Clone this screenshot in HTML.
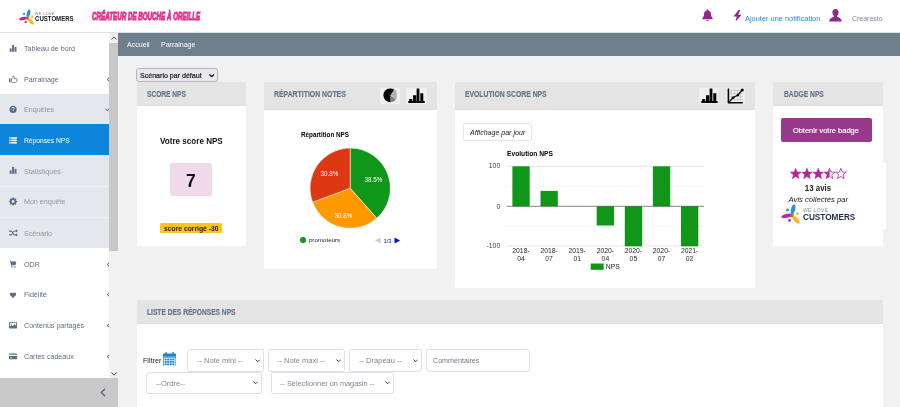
<!DOCTYPE html>
<html><head><meta charset="utf-8">
<style>
*{box-sizing:border-box;margin:0;padding:0}
html,body{width:900px;height:407px;overflow:hidden;background:#f1f1f1;font-family:"Liberation Sans",sans-serif;}
.abs{position:absolute}
.t{display:inline-block;transform-origin:0 50%;white-space:nowrap}
#hdr{position:absolute;left:0;top:0;width:900px;height:33px;background:#fff;border-bottom:1px solid #dde2e7}
#side{position:absolute;left:0;top:33px;width:109px;height:345px;background:#fff}
.it{position:relative;height:30.76px;width:109px;color:#5e6e80;font-size:7.45px;line-height:30.76px;padding-left:23.7px;white-space:nowrap}
.it .t{transform:scaleX(.955);position:relative;top:1.2px}
.it svg.ic{position:absolute;left:8.800px;width:8.200px;height:8.200px;fill:#5e6e80;overflow:visible}.it svg.ar{position:absolute;overflow:visible}
.sep{box-shadow:inset 0 1px 0 #eef0f2}
.sub{background:#e4e7eb;color:#8d99a6}
.act{background:#0b86db;color:#fff}
.act svg.ic{fill:#fff;margin-top:.7px}.act .t{top:1.900px !important}
#sb{position:absolute;left:109px;top:33px;width:9px;height:345px;background:#f1f1f1}
#sb .th{position:absolute;left:0;top:10px;width:9px;height:208px;background:#c8c8c8}
#sfoot{position:absolute;left:0;top:378px;width:118px;height:29px;background:#c9c9c9}
#bc{position:absolute;left:118px;top:33px;width:782px;height:22.5px;background:#6e7e8d;color:#fff;font-size:7.45px;line-height:22.5px}
#bc .t{transform:scaleX(.945);position:relative;top:.9px}
.card{position:absolute;background:#fff;border-radius:1.200px}
.ch{position:absolute;left:0;top:0;right:0;background:#e4e4e4;color:#66788d;font-weight:bold;font-size:8.300px;-webkit-text-stroke:.2px #66788d;padding-left:10.3px;border-radius:1.200px 1.200px 0 0;box-shadow:inset 0 -1px 0 #dde0e3}
.ch .t{transform:scaleX(.9)}
.ib{position:absolute;top:5.8px;width:20.5px;height:15.8px;background:#eef1f4;border-radius:2px}
.sel{position:absolute;height:22.3px;border:1px solid #dcdfe3;border-radius:2.5px;background:#fff;color:#7a8795;font-size:7.600px;line-height:21.800px;padding-left:8.300px}
.sel .t{transform:scaleX(.99)}
.sel svg{position:absolute;right:2.600px;top:8.900px;width:5.400px;height:3.600px}
</style></head><body><div id="root" style="position:absolute;left:0;top:0;width:900px;height:407px;overflow:hidden;will-change:transform">
<div id="hdr">
 <!-- logo -->
 <svg class="abs" style="left:18.700px;top:8.700px" width="16.500" height="16.500" viewBox="0 0 17 17">
  <ellipse cx="9.8" cy="4.6" rx="1.7" ry="4.3" fill="#2b8fdd" transform="rotate(14 9.8 4.6)"/>
  <ellipse cx="4.3" cy="9.9" rx="4.2" ry="1.6" fill="#b5279d" transform="rotate(-14 4.3 9.9)"/>
  <ellipse cx="12.2" cy="13" rx="1.7" ry="4" fill="#f9b61a" transform="rotate(-42 12.2 13)"/>
  <circle cx="5.2" cy="5" r="1.2" fill="#2b8fdd"/><circle cx="13.6" cy="8" r="1.2" fill="#f9b61a"/><circle cx="6.8" cy="13.6" r="1.2" fill="#b5279d"/>
  <circle cx="8.6" cy="9.6" r="1.3" fill="#e8452c"/><circle cx="10" cy="8.8" r="1" fill="#7cc242"/>
 </svg>
 <div class="abs" style="left:34.800px;top:12px;font-size:3.800px;line-height:4px;color:#777;letter-spacing:.4px">WE LOVE</div>
 <div class="abs" style="left:34.700px;top:14.500px;font-size:6.900px;line-height:8px;color:#15151f;font-weight:bold"><span class="t" style="transform:scaleX(.88)">CUSTOMERS</span></div>
 <div class="abs" style="left:92.400px;top:8.5px;font-size:11.2px;line-height:14px;color:#e72f8b;font-weight:bold;font-style:italic;-webkit-text-stroke:1px #e72f8b"><span class="t" style="transform:scaleX(.557)">CRÉATEUR DE BOUCHE À OREILLE</span></div>
 <!-- bell -->
 <svg class="abs" style="left:702px;top:9.3px" width="11" height="12.4" viewBox="0 0 11 12.4"><path d="M5.5 0.2c.5 0 .8.3.8.8v.4c1.7.4 2.7 1.8 2.7 3.6 0 2.2.7 3.3 1.7 4.3.3.3.1.9-.4.9H.7c-.5 0-.7-.6-.4-.9 1-1 1.7-2.100 1.700-4.300 0-1.800 1-3.200 2.700-3.600v-.4c0-.5.300-.8.800-.8zM4.300 10.900h2.400c0 .7-.5 1.200-1.200 1.200s-1.200-.5-1.200-1.200z" fill="#93278f"/></svg>
 <!-- bolt -->
 <svg class="abs" style="left:733px;top:9.6px" width="9" height="11.8" viewBox="0 0 9 11.800"><path d="M5.600 0L0.400 6.400h3.300L2.400 11.800 8.600 4.700H5.200L7.300 0z" fill="#93278f"/></svg>
 <div class="abs" style="left:745.3px;top:13.800px;font-size:7.600px;line-height:10px;color:#1b8fd9"><span class="t" style="transform:scaleX(.975)">Ajouter une notification</span></div>
 <!-- user -->
 <svg class="abs" style="left:829.3px;top:9.2px" width="13" height="12.4" viewBox="0 0 13 12.4"><path d="M6.500 0c1.900 0 3.100 1.400 3.100 3.300 0 1.500-.7 2.900-1.500 3.600v.8c1.500.6 4.600 1.500 4.700 4.700H.2c.1-3.200 3.200-4.100 4.700-4.700v-.8C4.100 6.200 3.400 4.800 3.400 3.300 3.400 1.400 4.600 0 6.500 0z" fill="#93278f"/></svg>
 <div class="abs" style="left:852.2px;top:13.700px;font-size:7.500px;line-height:10px;color:#7d8b99"><span class="t" style="transform:scaleX(.93)">Crearesto</span></div>
</div>

<div id="side">
 <div class="it " style="height:30.5px;line-height:30.5px"><svg class="ic" style="top:11.45px" viewBox="0 0 8.200 8.200"><rect x="0.7" y="4.4" width="1.9" height="3.4"/><rect x="3.1" y="0.9" width="2" height="6.900"/><rect x="5.600" y="2.900" width="1.900" height="4.900"/></svg><span class="t">Tableau de bord</span></div>
 <div class="it " style="height:30.4px;line-height:30.4px"><svg class="ic" style="top:11.40px" viewBox="0 0 8.200 8.200"><rect x="0" y="3.300" width="1.400" height="4.200"/><path d="M2.500 3.700c.9-.5 1.600-1.400 1.600-2.700.8-.2 1.500.5 1.300 1.500l-.3 1.100h2.200c.7 0 1 .6.800 1.100L7.500 6.800c-.1.400-.5.700-1 .7H4c-.6 0-1-.2-1.500-.5z" fill="none" stroke="#5e6e80" stroke-width=".8"/></svg><span class="t">Parrainage</span><svg class="ar" style="left:105.500px;top:13.10px" width="4" height="5" viewBox="0 0 4 5"><path d="M3.300 .6L1.100 2.500 3.300 4.400" fill="none" stroke="#4d6888" stroke-width="1"/></svg></div>
 <div class="it sub" style="height:30.3px;line-height:30.3px"><svg class="ic" style="top:11.35px" viewBox="0 0 8.200 8.200"><circle cx="4.100" cy="4.400" r="3.600"/><text x="4.100" y="6.300" font-size="5.400" font-weight="bold" text-anchor="middle" fill="#e4e7eb" font-family="Liberation Sans">?</text></svg><span class="t">Enquêtes</span><svg class="ar" style="left:105px;top:13.65px" width="5" height="4" viewBox="0 0 5 4"><path d="M.5 .7L2.400 2.900 4.300 .7" fill="none" stroke="#4d6888" stroke-width="1"/></svg></div>
 <div class="it act" style="height:30.5px;line-height:30.5px"><svg class="ic" style="top:11.45px" viewBox="0 0 8.200 8.200"><rect x="0.3" y="1.2" width="1.300" height="1.600"/><rect x="2.200" y="1.2" width="5.700" height="1.600"/><rect x="0.3" y="3.6" width="1.300" height="1.600"/><rect x="2.200" y="3.6" width="5.700" height="1.600"/><rect x="0.3" y="6.0" width="1.300" height="1.600"/><rect x="2.200" y="6.0" width="5.700" height="1.600"/></svg><span class="t" style="transform:scaleX(.9)">Réponses NPS</span></div>
 <div class="it sub" style="height:31.1px;line-height:31.1px"><svg class="ic" style="top:11.75px" viewBox="0 0 8.200 8.200"><rect x="0.7" y="4.4" width="1.9" height="3.4"/><rect x="3.1" y="0.9" width="2" height="6.900"/><rect x="5.600" y="2.900" width="1.900" height="4.900"/></svg><span class="t">Statistiques</span></div>
 <div class="it sub sep" style="height:30.9px;line-height:30.9px"><svg class="ic" style="top:11.65px" viewBox="0 0 8.200 8.200"><path d="M3.400 0h1.600l.2 1 .8.400.9-.6 1.100 1.100-.6.900.4.800 1 .2v1.600l-1 .2-.4.800.6.900-1.100 1.100-.9-.6-.8.400-.2 1H3.400l-.2-1-.8-.4-.9.600L.4 7.300l.6-.9-.4-.8-1-.2V3.800l1-.2.400-.8-.6-.9L1.500.8l.9.600.8-.4zM4.200 2.900a1.700 1.700 0 100 3.400 1.700 1.700 0 000-3.400z" fill-rule="evenodd" transform="translate(.45 .5) scale(.87)"/></svg><span class="t">Mon enquête</span></div>
 <div class="it sub sep" style="height:31.7px;line-height:31.7px"><svg class="ic" style="top:12.05px" viewBox="0 0 8.200 8.200"><path d="M0 1.500h1.900c.5 0 .9.200 1.200.6l2.200 2.900c.1.200.3.300.5.300h1.200v-1L8.900 5.900 7 7.500v-1H5.800c-.5 0-.9-.2-1.200-.6L2.400 3c-.1-.2-.3-.3-.5-.3H0zM0 5.300h1.900c.2 0 .4-.1.500-.3l.5-.6.700.9-.4.500c-.3.400-.7.600-1.200.6H0zM7 .3L8.900 1.900 7 3.500v-1H5.800c-.2 0-.4.100-.5.300l-.5.600-.7-.9.400-.5c.3-.4.700-.6 1.200-.6H7z"/></svg><span class="t">Scénario</span></div>
 <div class="it " style="height:30.9px;line-height:30.9px"><svg class="ic" style="top:11.65px" viewBox="0 0 8.200 8.200"><g transform="translate(.5 .3) scale(.92)"><path d="M0 .2h1.300l.5 1.200h5.600L6.600 5H2.500l.2.800h4v.8H2L.7 1H0z"/><circle cx="2.700" cy="7.300" r=".75"/><circle cx="6" cy="7.300" r=".75"/></g></svg><span class="t">ODR</span><svg class="ar" style="left:105.500px;top:13.35px" width="4" height="5" viewBox="0 0 4 5"><path d="M3.300 .6L1.100 2.500 3.300 4.400" fill="none" stroke="#4d6888" stroke-width="1"/></svg></div>
 <div class="it " style="height:30.6px;line-height:30.6px"><svg class="ic" style="top:11.50px" viewBox="0 0 8.200 8.200"><path d="M4 7.600L.8 4.400C-.1 3.500-.1 2.100.8 1.300c.9-.8 2.200-.7 3 .2l.2.300.2-.3c.8-.9 2.100-1 3-.2.900.8.900 2.200 0 3.100z" transform="translate(.7 .9) scale(.82)"/></svg><span class="t">Fidélité</span><svg class="ar" style="left:105.500px;top:13.20px" width="4" height="5" viewBox="0 0 4 5"><path d="M3.300 .6L1.100 2.500 3.300 4.400" fill="none" stroke="#4d6888" stroke-width="1"/></svg></div>
 <div class="it " style="height:30.4px;line-height:30.4px"><svg class="ic" style="top:11.40px" viewBox="0 0 8.200 8.200"><path d="M.7.900h6.600c.4 0 .7.300.7.700v5.200c0 .4-.3.700-.7.700H.7c-.4 0-.7-.3-.7-.7V1.600C0 1.200.3.900.7.900zM.9 1.800v4l1.800-1.800 1.100 1.100 1.900-2.100 1.400 1.700V1.800zM2.300 2.400a.7.700 0 110 1.400.7.700 0 010-1.400z" fill-rule="evenodd"/></svg><span class="t">Contenus partagés</span><svg class="ar" style="left:105.500px;top:13.10px" width="4" height="5" viewBox="0 0 4 5"><path d="M3.300 .6L1.100 2.500 3.300 4.400" fill="none" stroke="#4d6888" stroke-width="1"/></svg></div>
 <div class="it " style="height:31.6px;line-height:31.6px"><svg class="ic" style="top:12.00px" viewBox="0 0 8.200 8.200"><path d="M.7 1.400h6.800c.4 0 .7.300.7.700V2.800H0V2.100c0-.4.300-.7.700-.7zM0 4h8.200v2.500c0 .4-.3.700-.7.700H.7c-.4 0-.7-.3-.7-.7zM1 5.400v.8h1.700v-.8z" fill-rule="evenodd"/></svg><span class="t">Cartes cadeaux</span><svg class="ar" style="left:105.500px;top:13.70px" width="4" height="5" viewBox="0 0 4 5"><path d="M3.300 .6L1.100 2.500 3.300 4.400" fill="none" stroke="#4d6888" stroke-width="1"/></svg></div>
</div>
<div id="sb"><div class="th"></div>
 <svg class="abs" style="left:1.5px;top:3px" width="6" height="4" viewBox="0 0 6 4"><path d="M.5 3.500L3 .9l2.500 2.600" fill="none" stroke="#444" stroke-width=".9"/></svg>
 <svg class="abs" style="left:1.7px;top:338.500px" width="6" height="4" viewBox="0 0 6 4"><path d="M.5.500L3 3.100 5.500.5" fill="none" stroke="#333" stroke-width=".9"/></svg>
</div>
<div id="sfoot"><svg class="abs" style="left:100px;top:9.500px" width="6" height="9" viewBox="0 0 6 9"><path d="M5 .8L1.300 4.500 5 8.200" fill="none" stroke="#5e6e80" stroke-width="1.500"/></svg></div>
<div id="bc"><span class="abs" style="left:9px"><span class="t">Accueil</span></span><span class="abs" style="left:42.500px"><span class="t">Parrainage</span></span></div>

<!-- scenario select -->
<div class="abs" style="left:136.300px;top:68.300px;width:81.500px;height:13.400px;border:1px solid #b4b4c0;border-radius:2.500px;background:#e9e9ed;font-size:7.900px;line-height:13px;color:#111;padding-left:2.600px;-webkit-text-stroke:.2px #111"><span class="t" style="transform:scaleX(.895)">Scénario par défaut</span>
 <svg class="abs" style="left:71.800px;top:4.600px" width="5.400" height="3.600" viewBox="0 0 6 4"><path d="M.4.400L3 3.100 5.600.4" fill="none" stroke="#111" stroke-width="1.400"/></svg></div>

<!-- SCORE NPS -->
<div class="card" style="left:136.500px;top:82px;width:109.500px;height:163.700px">
 <div class="ch" style="height:23.500px;line-height:25.100px"><span class="t" style="transform:scaleX(.795)">SCORE NPS</span></div>
 <div class="abs" style="left:0;width:109.500px;top:52.700px;text-align:center;font-weight:bold;font-size:9.400px;line-height:12px;color:#111"><span class="t" style="transform-origin:50% 50%;transform:scaleX(.862)">Votre score NPS</span></div>
 <div class="abs" style="left:33.300px;top:81px;width:42.300px;height:33.100px;background:#f0daea;border-radius:2px;text-align:center;font-weight:bold;font-size:17.5px;line-height:37.400px;color:#111">7</div>
 <div class="abs" style="left:23.700px;top:141.400px;width:61.500px;height:10px;background:#fdc41a;border-radius:1.500px;text-align:center;font-weight:bold;font-size:7.500px;line-height:11.200px;color:#222"><span class="t" style="transform-origin:50% 50%;transform:scaleX(.9)">score corrigé -30</span></div>
</div>

<!-- REPARTITION -->
<div class="card" style="left:263.700px;top:82px;width:173px;height:186.500px">
 <div class="ch" style="height:28px;line-height:24px"><span class="t" style="transform:scaleX(.83)">RÉPARTITION NOTES</span>
  <div class="ib" style="left:116.200px"><svg class="abs" style="left:3px;top:.5px" width="14.600" height="14.600" viewBox="-7.300 -7.300 14.600 14.600"><circle r="7.050" fill="#030303"/><g transform="translate(.4 .1)"><path d="M0 0L3.740 -5.980A7.050 7.050 0 0 1 5.320 4.630Z" fill="#b2b2b2" stroke="#eee" stroke-width=".45"/><path d="M0 0L5.320 4.630A7.050 7.050 0 0 1 0 7.050Z" fill="#7a7a7a" stroke="#eee" stroke-width=".45"/></g><circle r="7.300" fill="none" stroke="#eef1f4" stroke-width=".5"/></svg></div>
  <div class="ib" style="left:142.400px"><svg class="abs" style="left:2px;top:0" width="17" height="15.800" viewBox="0 0 17 15.800"><path d="M.300 13h16.400v1.900H.300zM1.200 11.100h3.100v2H1.200zM5 7.200h3.200v6H5zM8.600.400h2.800v13H8.600zM12.300 5.200h3v8h-3z" fill="#050505"/></svg></div>
 </div>
 <div class="abs" style="left:37px;top:48.800px;font-weight:bold;font-size:6.500px;line-height:8px;color:#000"><span class="t" style="transform:scaleX(.97)">Répartition NPS</span></div>
 <svg class="abs" style="left:46.400px;top:65.500px" width="80.400" height="80.400" viewBox="-40.200 -40.200 80.400 80.400">
  <path d="M0 0L0 -40.100A40.100 40.100 0 0 1 26.520 30.080Z" fill="#109618" stroke="#fff" stroke-width=".5"/>
  <path d="M0 0L26.520 30.080A40.100 40.100 0 0 1 -37.560 14.040Z" fill="#ff9900" stroke="#fff" stroke-width=".5"/>
  <path d="M0 0L-37.560 14.040A40.100 40.100 0 0 1 0 -40.100Z" fill="#dc3912" stroke="#fff" stroke-width=".5"/>
  <g fill="#fff" font-size="6.300" font-family="Liberation Sans" text-anchor="middle"><text x="23.300" y="-6.500">38.5%</text><text x="-20.800" y="-12">30.8%</text><text x="-6.700" y="29.700">30.8%</text></g>
 </svg>
 <div class="abs" style="left:36.700px;top:155.200px;width:6px;height:6px;border-radius:3px;background:#109618"></div>
 <div class="abs" style="left:45.200px;top:154.200px;font-size:6.200px;line-height:8px;color:#222">promoteurs</div>
 <svg class="abs" style="left:111px;top:154.800px" width="26" height="7" viewBox="0 0 26 7"><path d="M0 3.500L5.500 .400V6.600Z" fill="#ccc"/><path d="M25 3.500L19.500 .400V6.600Z" fill="#0011cc"/><text x="12.500" y="5.700" font-size="5.800" font-family="Liberation Sans" fill="#0011cc" text-anchor="middle">1/3</text></svg>
</div>

<!-- EVOLUTION -->
<div class="card" style="left:455px;top:82px;width:300px;height:205.700px">
 <div class="ch" style="height:28px;line-height:24px"><span class="t" style="transform:scaleX(.82)">EVOLUTION SCORE NPS</span>
  <div class="ib" style="left:243.700px"><svg class="abs" style="left:2px;top:0" width="17" height="15.800" viewBox="0 0 17 15.800"><path d="M.300 13h16.400v1.900H.300zM1.200 11.100h3.100v2H1.200zM5 7.200h3.200v6H5zM8.600.400h2.800v13H8.600zM12.300 5.200h3v8h-3z" fill="#050505"/></svg></div>
  <div class="ib" style="left:270.800px;width:19px"><svg class="abs" style="left:1px;top:0" width="17" height="15.800" viewBox="0 0 17 15.800"><g stroke="#b4b4b4" stroke-width=".5"><path d="M4.500 .5v13M7.500 .5v13M10.500 .5v13M13.500 .5v13M2 2.500h14M2 5.500h14M2 8.500h14M2 11.500h14"/></g><path d="M1.400 .400v14.300h14.400" fill="none" stroke="#050505" stroke-width="1.600"/><path d="M2 14L6 9.800 11 7 15.300 1.900" fill="none" stroke="#050505" stroke-width="1.300"/><circle cx="6" cy="9.800" r="1.300"/><circle cx="11" cy="7" r="1.300"/><circle cx="15.300" cy="1.900" r="1.500"/></svg></div>
 </div>
 <div class="abs" style="left:8px;top:40.600px;width:68.800px;height:18.100px;border:1px solid #e6e6e6;border-radius:2px;background:#fff;font-style:italic;font-size:7.700px;line-height:17.300px;color:#222;padding-left:5.600px"><span class="t" style="transform:scaleX(.915)">Affichage par jour</span></div>
 <div class="abs" style="left:51.500px;top:67.900px;font-weight:bold;font-size:6.800px;line-height:8px;color:#000"><span class="t" style="transform:scaleX(.98)">Evolution NPS</span></div>
 <svg class="abs" style="left:0;top:75px" width="300" height="125" viewBox="455 157 300 125">
  <g stroke="#ebebeb" stroke-width=".5"><path d="M506.600 186.300H704M506.600 226.300H704"/></g>
  <g stroke="#cccccc" stroke-width=".5"><path d="M506.600 166.300H704M506.600 246H704"/></g>
  <g fill="#109618"><rect x="512.4" y="166.3" width="17.3" height="40.0"/><rect x="540.5" y="190.9" width="17.3" height="15.4"/><rect x="596.7" y="206.3" width="17.3" height="19.2"/><rect x="624.8" y="206.3" width="17.3" height="40.0"/><rect x="652.9" y="166.3" width="17.3" height="40.0"/><rect x="681.0" y="206.3" width="17.3" height="40.0"/></g>
  <path d="M506.600 206.300H704" stroke="#333" stroke-width=".6"/>
  <g font-family="Liberation Sans" font-size="6.800" fill="#3a3a3a" text-anchor="end"><text x="500.200" y="168.400">100</text><text x="500.200" y="208.500">0</text><text x="500.200" y="248.400">-100</text></g>
  <g font-family="Liberation Sans" font-size="6.800" fill="#2a2a2a" text-anchor="middle"><text x="521.0" y="253.200">2018-</text><text x="521.0" y="261.200">04</text><text x="549.1" y="253.200">2018-</text><text x="549.1" y="261.200">07</text><text x="577.2" y="253.200">2019-</text><text x="577.2" y="261.200">01</text><text x="605.4" y="253.200">2020-</text><text x="605.4" y="261.200">04</text><text x="633.4" y="253.200">2020-</text><text x="633.4" y="261.200">05</text><text x="661.5" y="253.200">2020-</text><text x="661.5" y="261.200">07</text><text x="689.6" y="253.200">2021-</text><text x="689.6" y="261.200">02</text></g>
  <rect x="590.700" y="263.500" width="13" height="6.300" fill="#109618"/>
  <text x="605.800" y="269.200" font-family="Liberation Sans" font-size="6.800" fill="#222">NPS</text>
 </svg>
</div>

<!-- BADGE -->
<div class="card" style="left:772.800px;top:82px;width:110.200px;height:163.700px">
 <div class="ch" style="height:23.500px;line-height:25.100px;padding-left:11.100px"><span class="t" style="transform:scaleX(.807)">BADGE NPS</span></div>
 <div class="abs" style="left:0;top:81.300px;width:113.200px;height:65.800px;background:#fff"></div>
 <div class="abs" style="left:8.200px;top:36px;width:90.700px;height:23.800px;background:#96398a;border-radius:2px;color:#fff;font-size:7.900px;line-height:25.600px;text-align:center;-webkit-text-stroke:.15px #fff"><span class="t" style="transform-origin:50% 50%;transform:scaleX(.945)">Obtenir votre badge</span></div>
 <svg class="abs" style="left:16.800px;top:85.600px" width="57" height="11.600" viewBox="0 0 57 11.600">
  <defs><path id="st" d="M5.650 .300L7.050 4.050 11 4.200 7.900 6.700 8.950 10.600 5.650 8.400 2.350 10.600 3.400 6.700 .300 4.200 4.250 4.050Z"/><clipPath id="hf"><rect x="0" y="0" width="5.650" height="12"/></clipPath></defs>
  <use href="#st" fill="#b32496" stroke="#b32496" stroke-width=".6"/>
  <use href="#st" x="11.300" fill="#b32496" stroke="#b32496" stroke-width=".6"/>
  <use href="#st" x="22.600" fill="#b32496" stroke="#b32496" stroke-width=".6"/>
  <g transform="translate(33.900 0)"><use href="#st" fill="#fff" stroke="#b32496" stroke-width=".8"/><use href="#st" fill="#b32496" clip-path="url(#hf)"/></g>
  <use href="#st" x="45.200" fill="#fff" stroke="#b32496" stroke-width=".8"/>
 </svg>
 <div class="abs" style="left:0;width:90px;top:100.900px;text-align:center;font-weight:bold;font-size:8.400px;line-height:10px;color:#222"><span class="t" style="transform-origin:50% 50%;transform:scaleX(.94)">13 avis</span></div>
 <div class="abs" style="left:0;width:90px;top:112.800px;text-align:center;font-style:italic;font-size:7.800px;line-height:10px;color:#222"><span class="t" style="transform-origin:50% 50%;transform:scaleX(.98)">Avis collectés par</span></div>
 <svg class="abs" style="left:8px;top:122px" width="21" height="20.500" viewBox="0 0 17 17">
  <ellipse cx="9.800" cy="4.600" rx="1.700" ry="4.300" fill="#2b8fdd" transform="rotate(14 9.800 4.600)"/>
  <ellipse cx="4.300" cy="9.900" rx="4.200" ry="1.600" fill="#b5279d" transform="rotate(-14 4.300 9.900)"/>
  <ellipse cx="12.200" cy="13" rx="1.700" ry="4" fill="#f9b61a" transform="rotate(-42 12.200 13)"/>
  <circle cx="5.200" cy="5" r="1.200" fill="#2b8fdd"/><circle cx="13.600" cy="8" r="1.200" fill="#f9b61a"/><circle cx="6.800" cy="13.600" r="1.200" fill="#b5279d"/>
  <circle cx="8.600" cy="9.600" r="1.300" fill="#e8452c"/><circle cx="10" cy="8.800" r="1" fill="#7cc242"/>
 </svg>
 <div class="abs" style="left:30.200px;top:125.500px;font-size:4.900px;line-height:5px;color:#8a8a8a;letter-spacing:.45px">WE LOVE</div>
 <div class="abs" style="left:30.100px;top:131.200px;font-size:8.300px;line-height:8px;color:#1f2a44;font-weight:bold"><span class="t" style="transform:scaleX(.99)">CUSTOMERS</span></div>
</div>

<!-- LISTE -->
<div class="card" style="left:136.500px;top:299.500px;width:746.500px;height:107.500px;border-radius:1.200px 1.200px 0 0">
 <div class="ch" style="height:24px;line-height:24px"><span class="t" style="transform:scaleX(.8)">LISTE DES RÉPONSES NPS</span></div>
</div>
<div class="abs" style="left:142.700px;top:356px;font-size:7.700px;line-height:10px;color:#222"><span class="t" style="transform:scaleX(.93)">Filtrer</span></div>
<svg class="abs" style="left:163px;top:351.600px" width="13.200" height="14.800" viewBox="0 0 13.200 14.800"><path d="M2.400 0h1.400v1.500h5.600V0h1.400v1.500h1.200c.7 0 1.200.5 1.200 1.200v2.100H0V2.700c0-.7.500-1.200 1.200-1.200h1.200z" fill="#1a82d2"/><rect x=".350" y="5.300" width="12.500" height="9.100" fill="#fff" stroke="#1a82d2" stroke-width=".700"/><g fill="#1a82d2"><rect x="1.600" y="6.600" width="2" height="1.800"/><rect x="4.200" y="6.600" width="2" height="1.800"/><rect x="6.800" y="6.600" width="2" height="1.800"/><rect x="9.400" y="6.600" width="2" height="1.800"/><rect x="1.600" y="9" width="2" height="1.800"/><rect x="4.200" y="9" width="2" height="1.800"/><rect x="6.800" y="9" width="2" height="1.800"/><rect x="9.400" y="9" width="2" height="1.800"/><rect x="1.600" y="11.400" width="2" height="1.800"/><rect x="4.200" y="11.400" width="2" height="1.800"/><rect x="6.800" y="11.400" width="2" height="1.800"/><rect x="9.400" y="11.400" width="2" height="1.800"/></g></svg>
<div class="sel" style="left:187.400px;top:349px;width:76.400px;height:22.800px;line-height:21.600px"><span class="t">-- Note mini --</span><svg viewBox="0 0 6 4"><path d="M.5.500L3 3.100 5.500.5" fill="none" stroke="#444" stroke-width="1"/></svg></div>
<div class="sel" style="left:268.200px;top:349px;width:76.800px;height:22.800px;line-height:21.600px"><span class="t">-- Note maxi --</span><svg viewBox="0 0 6 4"><path d="M.5.500L3 3.100 5.500.5" fill="none" stroke="#444" stroke-width="1"/></svg></div>
<div class="sel" style="left:349.400px;top:349px;width:72.300px;height:22.800px;line-height:21.600px"><span class="t">-- Drapeau --</span><svg viewBox="0 0 6 4"><path d="M.5.500L3 3.100 5.500.5" fill="none" stroke="#444" stroke-width="1"/></svg></div>
<div class="sel" style="left:426.300px;top:349px;width:103.400px;height:22.800px;line-height:21.600px;padding-left:5.600px;color:#6c7a89"><span class="t" style="transform:scaleX(.94)">Commentaires</span></div>
<div class="sel" style="left:146.400px;top:371.600px;width:115.200px"><span class="t">--Ordre--</span><svg viewBox="0 0 6 4"><path d="M.5.500L3 3.100 5.500.5" fill="none" stroke="#444" stroke-width="1"/></svg></div>
<div class="sel" style="left:270.900px;top:371.600px;width:123px"><span class="t" style="transform:scaleX(.965)">-- Sélectionner un magasin --</span><svg viewBox="0 0 6 4"><path d="M.5.500L3 3.100 5.500.5" fill="none" stroke="#444" stroke-width="1"/></svg></div>
</div></body></html>
